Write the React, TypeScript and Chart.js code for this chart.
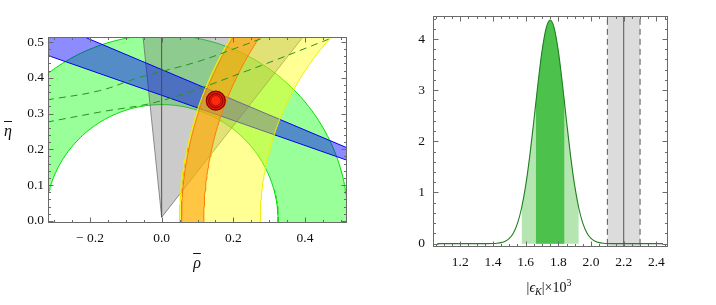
import React, { useEffect, useRef } from "react";
import { Chart, registerables } from "chart.js";

Chart.register(...registerables);

// ================= Left panel: (rho-bar, eta-bar) plane =================
const rhoRange = [-0.317, 0.517];
const etaRange = [-0.006, 0.514];
const rhoTicks = [-0.2, 0.0, 0.2, 0.4];
const rhoTickLabels = ["\u2212 0.2", "0.0", "0.2", "0.4"];
const etaTicks = [0.0, 0.1, 0.2, 0.3, 0.4, 0.5];
const etaTickLabels = ["0.0", "0.1", "0.2", "0.3", "0.4", "0.5"];
const rhoMinorStep = 0.05;
const etaMinorStep = 0.02;

// |Vub/Vcb| band (green annulus about the origin): inner / outer radius
const rbCenter = [0, 0];
const rbRadii = [0.325, 0.52];
// Delta M_d band (yellow) and Delta M_d / Delta M_s band (orange), about (1.04, 0)
const rtCenter = [1.041, 0];
const rtYellowRadii = [0.766, 0.991];
const rtOrangeRadii = [0.9235, 0.986];
// sin 2beta wedge from (1,0): slopes of its two edges
const betaApex = [1, 0];
const betaSlopes = [0.351, 0.423];
// gamma wedge from the origin: rho of each edge at eta = 0.515
const gammaApex = [0, 0.01];
const gammaRefEta = 0.515;
const gammaRefRho = [-0.052, 0.395];
// epsilon_K hyperbolas (dashed)
const epsUpperRho = [-0.32, -0.173, -0.062, 0.1, 0.237, 0.3];
const epsUpperEta = [0.338, 0.364, 0.401, 0.445, 0.494, 0.518];
const epsLowerRho = [-0.32, -0.173, 0.0, 0.237, 0.484];
const epsLowerEta = [0.276, 0.304, 0.336, 0.419, 0.515];
// fit point
const fitPoint = [0.151, 0.336];

// ================= Right panel: |eps_K| distribution =================
const epsRange = [1.033, 2.471];
const densRange = [-0.065, 4.447];
const epsTicks = [1.2, 1.4, 1.6, 1.8, 2.0, 2.2, 2.4];
const epsTickLabels = ["1.2", "1.4", "1.6", "1.8", "2.0", "2.2", "2.4"];
const densTicks = [0, 1, 2, 3, 4];
const densTickLabels = ["0", "1", "2", "3", "4"];
const epsMinorStep = 0.05;
const densMinorStep = 0.2;

const curveX = [
  1.06, 1.3, 1.35, 1.4, 1.425, 1.45, 1.475, 1.5, 1.525, 1.55, 1.575, 1.6, 1.625,
  1.65, 1.662, 1.675, 1.7, 1.725, 1.75, 1.775, 1.8, 1.825, 1.838, 1.85, 1.875,
  1.9, 1.925, 1.95, 1.975, 2.0, 2.025, 2.05, 2.075, 2.1, 2.15, 2.2, 2.44,
];
const curveY = [
  0, 0, 0.001, 0.003, 0.008, 0.02, 0.047, 0.103, 0.21, 0.397, 0.697, 1.133, 1.712,
  2.398, 2.746, 3.119, 3.762, 4.209, 4.37, 4.209, 3.762, 3.119, 2.746, 2.398, 1.712,
  1.133, 0.697, 0.397, 0.21, 0.103, 0.047, 0.02, 0.008, 0.003, 0.001, 0, 0,
];
const band68 = [1.662, 1.838];
const band95 = [1.575, 1.925];
const expCentral = 2.2;
const expBand = [2.1, 2.3];

// ================= helpers =================
type P = { x: number; y: number };

function annulus(center: number[], radii: number[], a0: number, a1: number): P[] {
  const n = 140;
  const pts: P[] = [];
  for (let i = 0; i <= n; i++) {
    const t = a0 + ((a1 - a0) * i) / n;
    pts.push({ x: center[0] + radii[1] * Math.cos(t), y: center[1] + radii[1] * Math.sin(t) });
  }
  for (let i = n; i >= 0; i--) {
    const t = a0 + ((a1 - a0) * i) / n;
    pts.push({ x: center[0] + radii[0] * Math.cos(t), y: center[1] + radii[0] * Math.sin(t) });
  }
  pts.push({ ...pts[0] });
  return pts;
}

function betaWedge(): P[] {
  const xFar = -0.6;
  const d = betaApex[0] - xFar;
  return [
    { x: betaApex[0], y: betaApex[1] },
    { x: xFar, y: betaApex[1] + betaSlopes[0] * d },
    { x: xFar, y: betaApex[1] + betaSlopes[1] * d },
    { x: betaApex[0], y: betaApex[1] },
  ];
}

function gammaWedge(): P[] {
  const etaFar = 0.62;
  const k = (etaFar - gammaApex[1]) / (gammaRefEta - gammaApex[1]);
  return [
    { x: gammaApex[0], y: gammaApex[1] },
    { x: gammaApex[0] + (gammaRefRho[0] - gammaApex[0]) * k, y: etaFar },
    { x: gammaApex[0] + (gammaRefRho[1] - gammaApex[0]) * k, y: etaFar },
    { x: gammaApex[0], y: gammaApex[1] },
  ];
}

const zip = (xs: number[], ys: number[]): P[] => xs.map((x, i) => ({ x, y: ys[i] }));

function framePlugin(xMajor: number[], yMajor: number[], xStep: number, yStep: number) {
  return {
    id: "frameTicks",
    afterDatasetsDraw(chart: any) {
      const { ctx, chartArea: a } = chart;
      const xs = chart.scales.x;
      const ys = chart.scales.y;
      const L = Math.round(a.left) + 0.5;
      const R = Math.round(a.right) - 0.5;
      const T = Math.round(a.top) + 0.5;
      const B = Math.round(a.bottom) - 0.5;
      ctx.save();
      ctx.strokeStyle = "#6a6a6a";
      ctx.lineWidth = 1;
      ctx.beginPath();
      const tickX = (v: number, len: number) => {
        const p = Math.round(xs.getPixelForValue(v)) + 0.5;
        if (p < L || p > R) return;
        ctx.moveTo(p, B);
        ctx.lineTo(p, B - len);
        ctx.moveTo(p, T);
        ctx.lineTo(p, T + len);
      };
      const tickY = (v: number, len: number) => {
        const p = Math.round(ys.getPixelForValue(v)) + 0.5;
        if (p < T || p > B) return;
        ctx.moveTo(L, p);
        ctx.lineTo(L + len, p);
        ctx.moveTo(R, p);
        ctx.lineTo(R - len, p);
      };
      const near = (v: number, arr: number[]) => arr.some((m) => Math.abs(m - v) < 1e-6);
      for (let k = Math.ceil(xs.min / xStep); k * xStep <= xs.max; k++) {
        const v = k * xStep;
        if (!near(v, xMajor)) tickX(v, 2.5);
      }
      for (let k = Math.ceil(ys.min / yStep); k * yStep <= ys.max; k++) {
        const v = k * yStep;
        if (!near(v, yMajor)) tickY(v, 2.5);
      }
      xMajor.forEach((v) => tickX(v, 5));
      yMajor.forEach((v) => tickY(v, 5));
      ctx.stroke();
      ctx.strokeRect(L, T, R - L, B - T);
      ctx.restore();
    },
  };
}

function axis(
  range: number[],
  ticks: number[],
  labels: string[],
  size: number,
  padding: number,
  horizontal: boolean
) {
  return {
    type: "linear",
    min: range[0],
    max: range[1],
    afterBuildTicks: (s: any) => {
      s.ticks = ticks.map((value) => ({ value }));
    },
    afterFit: (s: any) => {
      if (horizontal) s.height = size;
      else s.width = size;
    },
    ticks: {
      callback: (_v: any, i: number) => labels[i],
      padding,
      autoSkip: false,
      maxRotation: 0,
      minRotation: 0,
      color: "#111",
      font: { size: 13.5, family: '"Liberation Serif", "Times New Roman", serif' },
    },
    grid: { display: false, drawTicks: false },
    border: { display: false },
  };
}

function withOrder(list: any[]) {
  const n = list.length;
  return list.map((d, i) => ({ ...d, order: n - i }));
}

export default function App() {
  const leftRef = useRef<HTMLCanvasElement>(null);
  const rightRef = useRef<HTMLCanvasElement>(null);

  useEffect(() => {
    Chart.defaults.font.family = '"Liberation Serif", "Times New Roman", serif';

    const poly = (data: P[], bg: string, border: string, bw = 1) => ({
      data,
      fill: "shape",
      backgroundColor: bg,
      borderColor: border,
      borderWidth: bw,
      pointRadius: 0,
      tension: 0,
    });
    const line = (data: P[], color: string, bw: number, dash: number[] = [], tension = 0) => ({
      data,
      fill: false,
      borderColor: color,
      borderWidth: bw,
      borderDash: dash,
      pointRadius: 0,
      tension,
    });
    const dot = (r: number, bg: string, border: string, bw: number) => ({
      data: [{ x: fitPoint[0], y: fitPoint[1] }],
      showLine: false,
      pointRadius: r,
      pointBackgroundColor: bg,
      pointBorderColor: border,
      pointBorderWidth: bw,
    });

    const leftDatasets = withOrder([
      poly(annulus(rbCenter, rbRadii, -0.06, Math.PI + 0.06), "rgba(0,255,0,0.4)", "#00dd00", 1),
      poly(gammaWedge(), "rgba(125,125,125,0.4)", "rgba(95,95,95,0.85)", 0.8),
      poly(betaWedge(), "rgba(0,0,255,0.45)", "#0000ee", 1),
      line(
        [
          { x: gammaApex[0], y: gammaApex[1] },
          { x: gammaApex[0], y: 0.62 },
        ],
        "rgba(70,70,70,0.9)",
        1
      ),
      poly(annulus(rtCenter, rtYellowRadii, Math.PI / 2, Math.PI + 0.06), "rgba(255,255,0,0.42)", "#eeee00", 1),
      poly(annulus(rtCenter, rtOrangeRadii, Math.PI / 2, Math.PI + 0.06), "rgba(255,150,0,0.55)", "#ff7a00", 1),
      line(zip(epsUpperRho, epsUpperEta), "#239323", 1, [7, 5], 0.4),
      line(zip(epsLowerRho, epsLowerEta), "#239323", 1, [7, 5], 0.4),
      dot(9.5, "#d81e12", "#8a0000", 1.2),
      dot(7, "rgba(0,0,0,0)", "#8a0000", 1),
      dot(5, "#ff2a0c", "#c00000", 0.8),
    ]);

    const left = new Chart(leftRef.current as HTMLCanvasElement, {
      type: "line",
      data: { datasets: leftDatasets as any },
      options: {
        responsive: false,
        animation: false,
        events: [],
        layout: { padding: { top: 37, right: 13, left: 0, bottom: 0 } },
        plugins: { legend: { display: false }, tooltip: { enabled: false } },
        scales: {
          x: axis(rhoRange, rhoTicks, rhoTickLabels, 82, 7, true) as any,
          y: axis(etaRange, etaTicks, etaTickLabels, 48, 4, false) as any,
        },
      },
      plugins: [framePlugin(rhoTicks, etaTicks, rhoMinorStep, etaMinorStep)],
    });

    const curve = zip(curveX, curveY);
    const inBand = (b: number[]) => curve.filter((p) => p.x >= b[0] - 1e-9 && p.x <= b[1] + 1e-9);

    const rightDatasets = withOrder([
      {
        data: [
          { x: expBand[0], y: 10 },
          { x: expBand[1], y: 10 },
        ],
        fill: "start",
        backgroundColor: "#dcdcdc",
        borderWidth: 0,
        pointRadius: 0,
      },
      line([{ x: expBand[0], y: -1 }, { x: expBand[0], y: 10 }], "#555", 1, [6, 4]),
      line([{ x: expBand[1], y: -1 }, { x: expBand[1], y: 10 }], "#555", 1, [6, 4]),
      line([{ x: expCentral, y: -1 }, { x: expCentral, y: 10 }], "#555", 1),
      {
        data: inBand(band95),
        fill: "origin",
        backgroundColor: "#b5e5b1",
        borderWidth: 0,
        pointRadius: 0,
        cubicInterpolationMode: "monotone",
      },
      {
        data: inBand(band68),
        fill: "origin",
        backgroundColor: "#4cc24c",
        borderWidth: 0,
        pointRadius: 0,
        cubicInterpolationMode: "monotone",
      },
      {
        data: curve,
        fill: false,
        borderColor: "#1f7f1f",
        borderWidth: 1.1,
        pointRadius: 0,
        cubicInterpolationMode: "monotone",
      },
    ]);

    const right = new Chart(rightRef.current as HTMLCanvasElement, {
      type: "line",
      data: { datasets: rightDatasets as any },
      options: {
        responsive: false,
        animation: false,
        events: [],
        layout: { padding: { top: 12, right: 48, left: 0, bottom: 0 } },
        plugins: { legend: { display: false }, tooltip: { enabled: false } },
        scales: {
          x: axis(epsRange, epsTicks, epsTickLabels, 58, 7, true) as any,
          y: axis(densRange, densTicks, densTickLabels, 73, 8, false) as any,
        },
      },
      plugins: [framePlugin(epsTicks, densTicks, epsMinorStep, densMinorStep)],
    });

    return () => {
      left.destroy();
      right.destroy();
    };
  }, []);

  const serif = '"Liberation Serif", "Times New Roman", serif';
  const center: React.CSSProperties = {
    position: "absolute",
    transform: "translate(-50%, -50%)",
    whiteSpace: "nowrap",
    fontFamily: serif,
    color: "#111",
    lineHeight: 1,
  };

  return (
    <div
      style={{
        position: "fixed",
        left: 0,
        top: 0,
        width: 716,
        height: 305,
        background: "#fff",
        overflow: "hidden",
      }}
    >
      <canvas
        ref={leftRef}
        width={360}
        height={305}
        style={{ position: "absolute", left: 0, top: 0, width: 360, height: 305 }}
      />
      <canvas
        ref={rightRef}
        width={356}
        height={305}
        style={{ position: "absolute", left: 360, top: 0, width: 356, height: 305 }}
      />
      <div style={{ ...center, left: 197, top: 263, fontSize: 16, fontStyle: "italic", textDecoration: "overline" }}>
        ρ
      </div>
      <div style={{ ...center, left: 8, top: 131, fontSize: 16, fontStyle: "italic", textDecoration: "overline" }}>
        η
      </div>
      <div style={{ ...center, left: 549, top: 287, fontSize: 14 }}>
        |<i>ϵ</i>
        <sub style={{ fontSize: 10, fontStyle: "italic", verticalAlign: "-3px" }}>K</sub>|×10
        <sup style={{ fontSize: 10, verticalAlign: "6px" }}>3</sup>
      </div>
    </div>
  );
}
